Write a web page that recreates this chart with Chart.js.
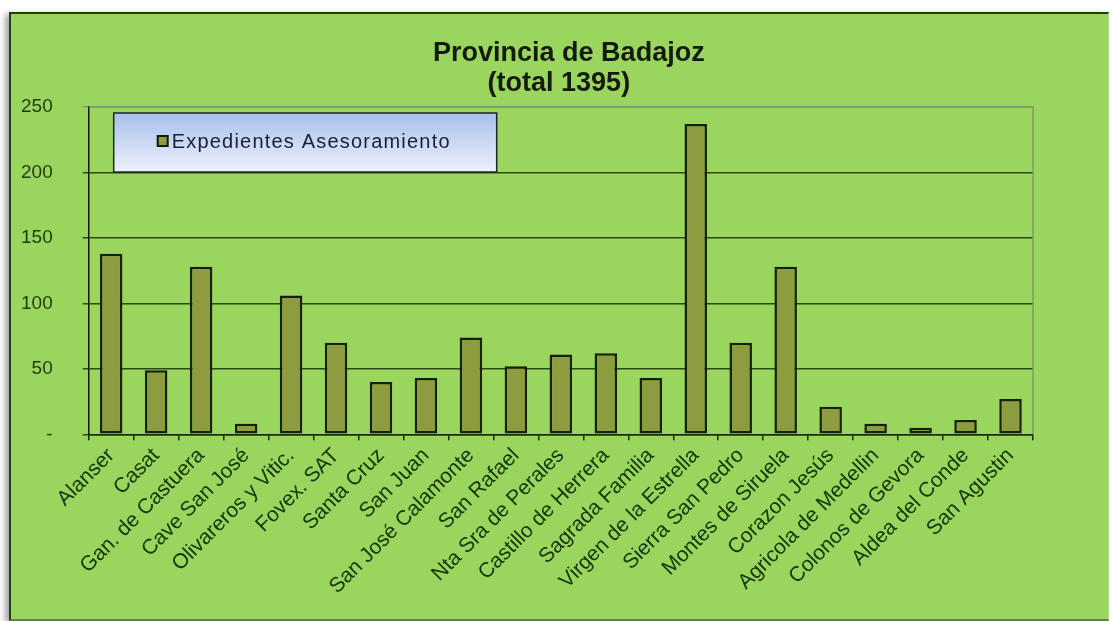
<!DOCTYPE html>
<html>
<head>
<meta charset="utf-8">
<script src="https://cdn.jsdelivr.net/npm/chart.js@4"></script>
<style>
  html, body { margin: 0; padding: 0; background: #ffffff; }
  #frame {
    position: absolute; left: 9px; top: 12px; width: 1097px; height: 605px;
    background: #9ad55d;
    border-top: 2px solid #22400e; border-left: 2px solid #22400e;
    border-bottom: 2px solid #5f7f45; border-right: 1px solid #b8d89a;
    box-shadow: -4px 2px 6px rgba(0,0,0,0.35);
  }
  #wrap { position: absolute; left: 0; top: 0; width: 1112px; height: 621px; }
</style>
</head>
<body>
<div id="frame"></div>
<div id="wrap"><canvas id="chartContainer" width="1112" height="621"></canvas></div>
<script>
// datos
var categorias = ['Alanser', 'Casat', 'Gan. de Castuera', 'Cave San José', 'Olivareros y Vitic.',
  'Fovex. SAT', 'Santa Cruz', 'San Juan', 'San José Calamonte', 'San Rafael',
  'Nta Sra de Perales', 'Castillo de Herrera', 'Sagrada Familia', 'Virgen de la Estrella',
  'Sierra San Pedro', 'Montes de Siruela', 'Corazon Jesús', 'Agricola de Medellin',
  'Colonos de Gevora', 'Aldea del Conde', 'San Agustin'];
var expedientes = [138, 49, 128, 8, 106, 70, 40, 43, 74, 52, 61, 62, 43, 237, 70, 128, 21, 8, 5, 11, 27];
var serieNombre = 'Expedientes Asesoramiento';
var tituloLineas = ['Provincia de Badajoz', '(total 1395)'];
var ejeY = ['-', '50', '100', '150', '200', '250'];
var yMax = 250, yPaso = 50;

// titulo + leyenda + borde del area
var extras = {
  id: 'extras',
  beforeDatasetsDraw: function(chart) {
    var ctx = chart.ctx, a = chart.chartArea;
    ctx.save();
    ctx.strokeStyle = '#7d9a68';
    ctx.lineWidth = 1.5;
    ctx.beginPath();
    ctx.moveTo(a.left, a.top);
    ctx.lineTo(a.right, a.top);
    ctx.lineTo(a.right, a.bottom);
    ctx.stroke();
    ctx.restore();
  },
  afterDraw: function(chart) {
    var ctx = chart.ctx, a = chart.chartArea;
    ctx.save();
    // titulo
    var cx = (a.left + a.right) / 2 + 2;
    ctx.fillStyle = '#151a10';
    ctx.font = 'bold 27px "Liberation Sans", Arial, sans-serif';
    ctx.textAlign = 'center';
    ctx.textBaseline = 'middle';
    ctx.fillText(tituloLineas[0], cx + 6, a.top - 53);
    ctx.fillText(tituloLineas[1], cx - 4, a.top - 23);

    // leyenda
    var lx = a.left + 25, ly = a.top + 6, lw = 383, lh = 59;
    var g = ctx.createLinearGradient(0, ly, 0, ly + lh);
    g.addColorStop(0, '#a6c0ea');
    g.addColorStop(1, '#eef1fb');
    ctx.fillStyle = g;
    ctx.fillRect(lx, ly, lw, lh);
    ctx.strokeStyle = '#1c2430';
    ctx.lineWidth = 1.5;
    ctx.strokeRect(lx, ly, lw, lh);
    ctx.fillStyle = '#8c9c3e';
    ctx.fillRect(lx + 44, ly + 23, 10, 10);
    ctx.lineWidth = 2;
    ctx.strokeStyle = '#10180a';
    ctx.strokeRect(lx + 44, ly + 23, 10, 10);
    ctx.fillStyle = '#1a1e38';
    ctx.font = '20px "Liberation Sans", Arial, sans-serif';
    ctx.textAlign = 'left';
    ctx.letterSpacing = '1.2px';
    ctx.fillText(serieNombre, lx + 58, ly + 29);
    ctx.restore();
  }
};

var chart1 = new Chart(document.getElementById('chartContainer').getContext('2d'), {
  type: 'bar',
  data: {
    labels: categorias,
    datasets: [{
      label: serieNombre,
      data: expedientes,
      backgroundColor: '#8c9c3e',
      borderColor: '#14200a',
      borderWidth: 2.5,
      borderSkipped: false,
      categoryPercentage: 1,
      barPercentage: 0.5
    }]
  },
  options: {
    responsive: false,
    animation: false,
    layout: { padding: { top: 107, left: 21, right: 79, bottom: 19 } },
    plugins: {
      legend: { display: false },
      title: { display: false },
      tooltip: { enabled: false }
    },
    scales: {
      x: {
        afterFit: function(s) { s.paddingLeft = 0; s.paddingRight = 0; },
        grid: {
          display: true,
          drawOnChartArea: false,
          drawTicks: true,
          tickLength: 6,
          color: '#1a2a0c',
          lineWidth: 1.5
        },
        border: { color: '#1a2a0c', width: 1.5 },
        ticks: {
          autoSkip: false,
          maxRotation: 45,
          minRotation: 45,
          padding: 3,
          color: '#14340a',
          font: { family: '"Liberation Sans", Arial, sans-serif', size: 21 }
        }
      },
      y: {
        min: 0,
        max: yMax,
        // el padding de las etiquetas se cuenta dos veces en el ancho
        afterFit: function(s) { s.width = s.width - s.options.ticks.padding; },
        grid: {
          color: function(c) { return c.tick && c.tick.value === yMax ? '#7d9a68' : '#2b4812'; },
          lineWidth: 1.5,
          tickLength: 6,
          drawTicks: true
        },
        border: { color: '#101808', width: 1.5 },
        ticks: {
          stepSize: yPaso,
          padding: 30,
          color: '#1d3a0e',
          font: { family: '"Liberation Sans", Arial, sans-serif', size: 19 },
          callback: function(v) { return ejeY[v / yPaso]; }
        }
      }
    }
  },
  plugins: [extras]
});
</script>
</body>
</html>
